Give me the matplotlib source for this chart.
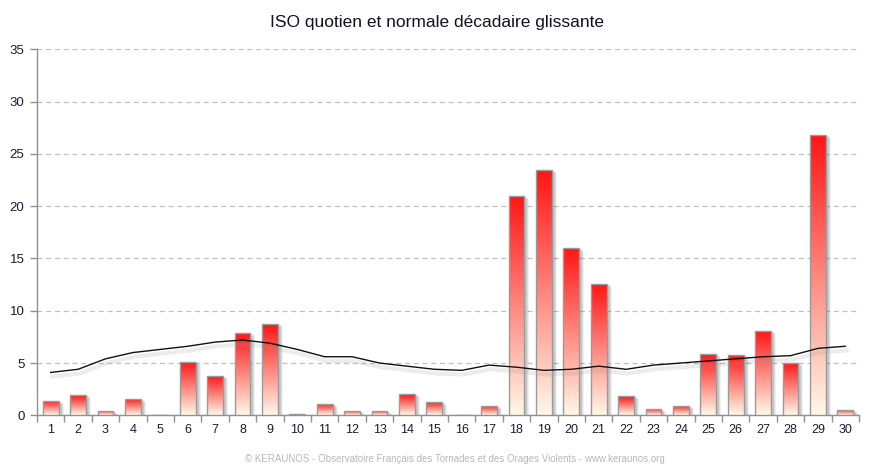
import numpy as np
import matplotlib
matplotlib.use("Agg")
import matplotlib.pyplot as plt
import matplotlib.transforms as mtransforms
from matplotlib import patheffects as pe

days = list(range(1, 31))
day_labels = [str(d) for d in days]
iso_values = [1.4, 1.9, 0.4, 1.6, 0.0, 5.1, 3.8, 7.9, 8.7, 0.1,
              1.1, 0.4, 0.4, 2.0, 1.3, 0.0, 0.9, 21.0, 23.5, 16.0,
              12.6, 1.8, 0.6, 0.9, 5.9, 5.8, 8.1, 5.0, 26.8, 0.5]
normale = [4.1, 4.4, 5.4, 6.0, 6.3, 6.6, 7.0, 7.2, 6.9, 6.3,
           5.6, 5.6, 5.0, 4.7, 4.4, 4.3, 4.8, 4.6, 4.3, 4.4,
           4.7, 4.4, 4.8, 5.0, 5.2, 5.4, 5.6, 5.7, 6.4, 6.6]
y_ticks = [0, 5, 10, 15, 20, 25, 30, 35]

FONT = ["Liberation Sans", "DejaVu Sans"]
plt.rcParams['font.family'] = FONT

fig = plt.figure(figsize=(8.74, 4.71), dpi=100)
ax = fig.add_axes([37/874, 1 - 415.3/471, 822/874, 366/471])

w = 0.58
# soft shadows
for i, (dx, dy, a) in enumerate([(5, -3, 0.08), (4, -2, 0.12), (3, -1, 0.16)]):
    tr = mtransforms.offset_copy(ax.transData, fig=fig, x=dx, y=dy, units='dots')
    ax.bar(days, iso_values, width=w, color='#555555', alpha=a,
           linewidth=0, transform=tr, zorder=2)

bars = ax.bar(days, iso_values, width=w, facecolor='none',
              edgecolor='#9a9a9a', linewidth=1.0, zorder=4)

top = np.array([255, 20, 20]) / 255
bot = np.array([255, 248, 232]) / 255
t = np.linspace(0, 1, 256)[:, None]
grad = (top[None, :] * (1 - t) + bot[None, :] * t)[:, None, :]
for d, v, b in zip(days, iso_values, bars):
    if v <= 0:
        continue
    im = ax.imshow(grad, extent=[d - w/2, d + w/2, 0, v], aspect='auto',
                   interpolation='bilinear', zorder=3)
    im.set_clip_path(b)

ax.plot(days, normale, color='#111111', linewidth=1.0, zorder=5,
        path_effects=[pe.SimpleLineShadow(offset=(1, -3), shadow_color='#999999',
                                          alpha=0.18, linewidth=3),
                      pe.Normal()])

ax.set_xlim(0.5, 30.5)
ax.set_ylim(0, 35)
ax.set_yticks(y_ticks)
ax.set_yticklabels([str(v) for v in y_ticks], fontsize=9.5, color='#1a1a3a')
ax.yaxis.grid(True, linestyle=(0, (4, 3)), color='#c0c0c0', linewidth=0.9)
ax.set_axisbelow(True)

ax.set_xticks(np.arange(0.5, 31, 1))
ax.set_xticklabels([])
ax.set_xticks(days, minor=True)
ax.set_xticklabels(day_labels, minor=True, fontsize=9, color='#1a1a3a')
ax.tick_params(axis='x', which='minor', length=0, pad=6)
ax.tick_params(axis='x', which='major', length=5, color='#909090', width=1)
ax.tick_params(axis='y', length=5, color='#909090', width=1, pad=4)

for s in ['top', 'right']:
    ax.spines[s].set_visible(False)
for s in ['left', 'bottom']:
    ax.spines[s].set_color('#909090')
    ax.spines[s].set_linewidth(1.0)

fig.text(437/874, 1 - 22/471, "ISO quotien et normale décadaire glissante",
         ha='center', va='center', fontsize=12.5, color='#111122')
fig.text(455/874, 1 - 459/471,
         "© KERAUNOS - Observatoire Français des Tornades et des Orages Violents - www.keraunos.org",
         ha='center', va='center', fontsize=7, color='#b8b8b8')

fig.savefig("out.png", dpi=100)
